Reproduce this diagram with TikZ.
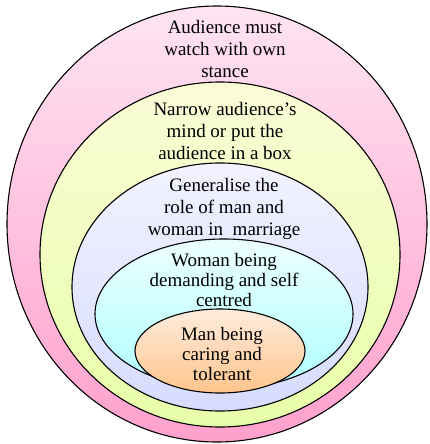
\documentclass[tikz,border=0pt]{standalone}
\usepackage{fontspec}
\setmainfont{Liberation Serif}
\usepackage{tikz}

\definecolor{pinkTop}{RGB}{255,228,242}
\definecolor{pinkBot}{RGB}{255,160,205}
\definecolor{yelTop}{RGB}{250,252,215}
\definecolor{yelBot}{RGB}{232,255,170}
\definecolor{lavTop}{RGB}{242,242,255}
\definecolor{lavBot}{RGB}{214,220,255}
\definecolor{cyaTop}{RGB}{236,255,255}
\definecolor{cyaBot}{RGB}{176,255,255}
\definecolor{orgTop}{RGB}{255,236,222}
\definecolor{orgBot}{RGB}{255,196,140}

\tikzset{
	ring/.style={draw=black, line width=1.1pt},
	lbl/.style={align=center, font=\fontsize{19}{22}\selectfont, inner sep=0pt},
	lblsm/.style={align=center, font=\fontsize{19}{19.8}\selectfont, inner sep=0pt}
}

\begin{document}
\begin{tikzpicture}[x=1pt, y=-1pt]
\useasboundingbox (0,0) rectangle (429,444);

% draw the rings, outside first
	\shade[ring, top color=pinkTop, bottom color=pinkBot] (217,224) ellipse (210 and 218);
	\shade[ring, top color=yelTop, bottom color=yelBot] (220,254.5) ellipse (180 and 172.5);
	\shade[ring, top color=lavTop, bottom color=lavBot] (220,287) ellipse (148 and 124);
	\shade[ring, top color=cyaTop, bottom color=cyaBot] (224,314) ellipse (129 and 75);
	\shade[ring, top color=orgTop, bottom color=orgBot] (220,351) ellipse (85 and 42);

% labels of the rings
	\node[lbl] (stance) at (225,49) {Audience must\\watch with own\\stance};
	\node[lbl] (narrow) at (225,131) {Narrow audience’s\\mind or put the\\audience in a box};
	\node[lbl] (general) at (224,209) {Generalise the\\role of man and\\woman in\ \ marriage};
	\node[lblsm] (woman) at (224,280) {Woman being\\demanding and self\\centred};
	\node[lblsm] (man) at (222,354) {Man being\\caring and\\tolerant};
\end{tikzpicture}
\end{document}
